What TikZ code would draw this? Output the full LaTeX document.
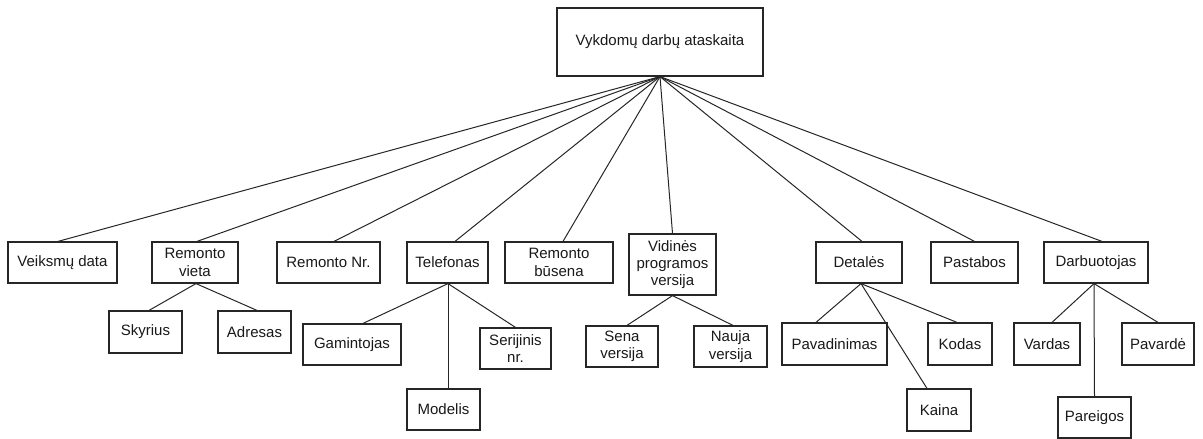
\documentclass[tikz,border=0pt]{standalone}
\usepackage{fontspec}
\setmainfont{Liberation Sans}
\begin{document}
\begin{tikzpicture}[x=1pt,y=-1pt,
  box/.style={draw=black!85,line width=1.2pt,fill=white,inner sep=0pt,
    align=center,font=\fontsize{15}{17.3}\selectfont,text=black!90},
  link/.style={draw=black!85,line width=1pt}]
\useasboundingbox (0,0) rectangle (1203,439);
% top level
\node[box,minimum width=206,minimum height=68] (root) at (660,42) {Vykdomų darbų ataskaita};
% second level
\node[box,minimum width=109,minimum height=41] (veiks) at (62.5,262.5) {Veiksmų data};
\node[box,minimum width=86,minimum height=41] (rvieta) at (195,262.5) {Remonto\\vieta};
\node[box,minimum width=103,minimum height=41] (rnr) at (328.5,262.5) {Remonto Nr.};
\node[box,minimum width=81,minimum height=41] (tel) at (447.5,262.5) {Telefonas};
\node[box,minimum width=108,minimum height=41] (rbus) at (559,262.5) {Remonto\\būsena};
\node[box,minimum width=87,minimum height=61] (vid) at (672.5,264.5) {Vidinės\\programos\\versija};
\node[box,minimum width=86,minimum height=41] (det) at (859,262.5) {Detalės};
\node[box,minimum width=87,minimum height=41] (past) at (974.5,262.5) {Pastabos};
\node[box,minimum width=104,minimum height=41] (darb) at (1096,262.5) {Darbuotojas};
% third level
\node[box,minimum width=73,minimum height=42] (sky) at (145.5,332) {Skyrius};
\node[box,minimum width=73,minimum height=42] (adr) at (254.5,332) {Adresas};
\node[box,minimum width=98,minimum height=41] (gam) at (352,344.5) {Gamintojas};
\node[box,minimum width=71,minimum height=41] (ser) at (515.5,348.5) {Serijinis\\nr.};
\node[box,minimum width=73,minimum height=41] (mod) at (443.5,409.5) {Modelis};
\node[box,minimum width=72,minimum height=41] (sena) at (622,346.5) {Sena\\versija};
\node[box,minimum width=73,minimum height=41] (nauja) at (730.5,346.5) {Nauja\\versija};
\node[box,minimum width=105,minimum height=42] (pav) at (834.5,344) {Pavadinimas};
\node[box,minimum width=64,minimum height=42] (kodas) at (960,344) {Kodas};
\node[box,minimum width=64,minimum height=42] (kaina) at (939,410) {Kaina};
\node[box,minimum width=66,minimum height=42] (vardas) at (1047,344) {Vardas};
\node[box,minimum width=72,minimum height=42] (pavarde) at (1158,344) {Pavardė};
\node[box,minimum width=73,minimum height=41] (pareigos) at (1094.5,417.5) {Pareigos};
% connectors
\begin{scope}[on background layer/.style={}]
\draw[link] (root.south) -- ([xshift=-4.5]veiks.north);
\draw[link] (root.south) -- ([xshift=2]rvieta.north);
\draw[link] (root.south) -- ([xshift=5.5]rnr.north);
\draw[link] (root.south) -- ([xshift=7.5]tel.north);
\draw[link] (root.south) -- ([xshift=4]rbus.north);
\draw[link] (root.south) -- (vid.north);
\draw[link] (root.south) -- ([xshift=3]det.north);
\draw[link] (root.south) -- (past.north);
\draw[link] (root.south) -- ([xshift=6]darb.north);
\draw[link] ([xshift=1]rvieta.south) -- ([xshift=3.5]sky.north);
\draw[link] ([xshift=1]rvieta.south) -- ([xshift=2.5]adr.north);
\draw[link] ([xshift=0.5]tel.south) -- ([xshift=11]gam.north);
\draw[link] ([xshift=0.5]tel.south) -- ([xshift=4.5]mod.north);
\draw[link] ([xshift=0.5]tel.south) -- (ser.north);
\draw[link] (vid.south) -- ([xshift=5]sena.north);
\draw[link] (vid.south) -- ([xshift=2.5]nauja.north);
\draw[link] ([xshift=2]det.south) -- ([xshift=-18.5]pav.north);
\draw[link] ([xshift=2]det.south) -- ([xshift=-12]kaina.north);
\draw[link] ([xshift=2]det.south) -- ([xshift=-3]kodas.north);
\draw[link] ([xshift=-2]darb.south) -- ([xshift=5]vardas.north);
\draw[link] ([xshift=-2]darb.south) -- (pareigos.north);
\draw[link] ([xshift=-2]darb.south) -- (pavarde.north);
\end{scope}
\end{tikzpicture}
\end{document}
